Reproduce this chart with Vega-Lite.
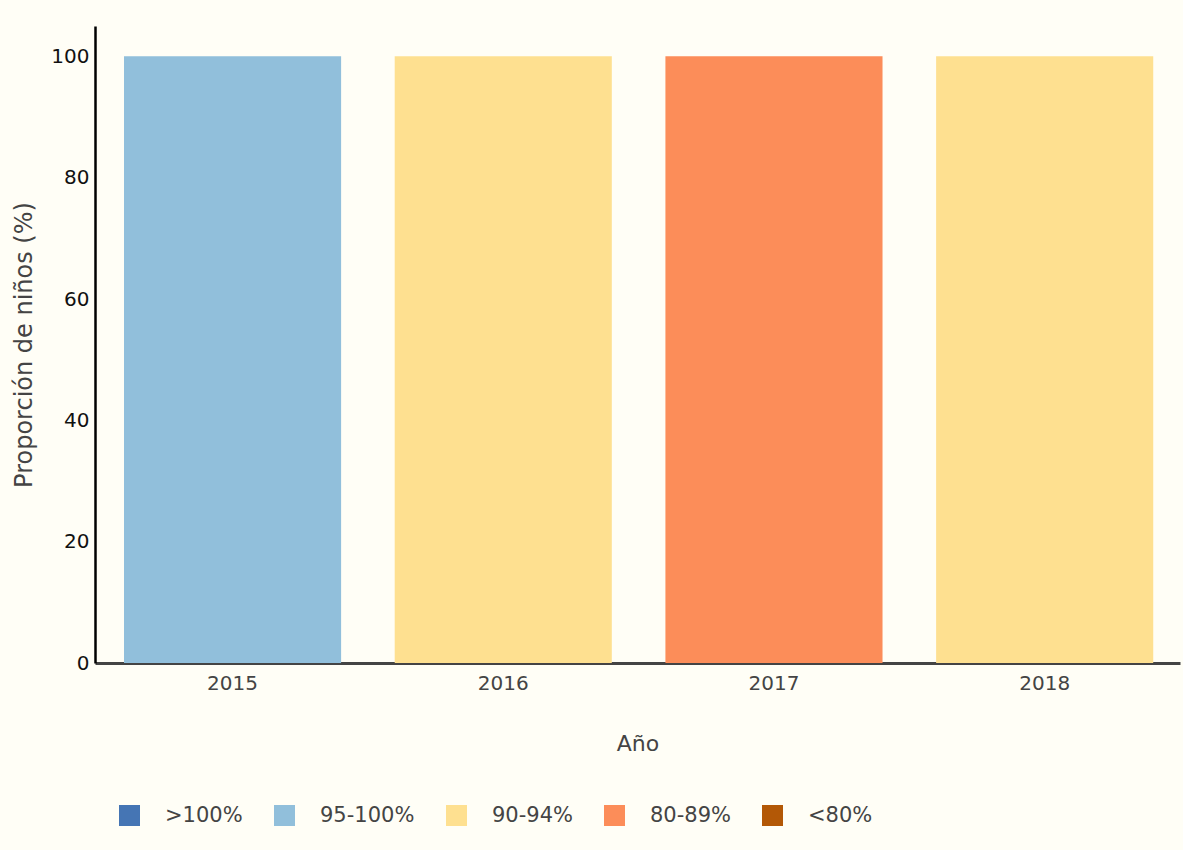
{
  "$schema": "https://vega.github.io/schema/vega-lite/v6.json",
  "autosize": {"type": "none"},
  "width": 1085,
  "height": 637,
  "padding": {"left": 95, "top": 26, "right": 3, "bottom": 187},
  "background": "#fffef6",
  "config": {
    "font": "DejaVu Sans",
    "view": {"stroke": null},
    "axis": {"grid": false, "ticks": false}
  },
  "data": {
    "values": [
      {"anio": "2015", "valor": 100, "cat": "95-100%"},
      {"anio": "2016", "valor": 100, "cat": "90-94%"},
      {"anio": "2017", "valor": 100, "cat": "80-89%"},
      {"anio": "2018", "valor": 100, "cat": "90-94%"}
    ]
  },
  "mark": {"type": "bar"},
  "encoding": {
    "x": {
      "field": "anio",
      "type": "nominal",
      "scale": {"paddingInner": 0.198, "paddingOuter": 0.103, "align": 0.52},
      "axis": {
        "title": "Año",
        "labelAngle": 0,
        "labelFontSize": 20,
        "labelColor": "#444444",
        "labelPadding": 10,
        "titleFontSize": 22,
        "titleFontWeight": "normal",
        "titleColor": "#444444",
        "titlePadding": 40,
        "domainColor": "#444444",
        "domainWidth": 3
      }
    },
    "y": {
      "field": "valor",
      "type": "quantitative",
      "scale": {"domain": [0, 105], "nice": false},
      "axis": {
        "title": "Proporción de niños (%)",
        "values": [0, 20, 40, 60, 80, 100],
        "labelFontSize": 20,
        "labelColor": "#111111",
        "labelPadding": 6,
        "titleFontSize": 24,
        "titleFontWeight": "normal",
        "titleColor": "#444444",
        "titlePadding": 14,
        "domainColor": "#000000",
        "domainWidth": 2.5
      }
    },
    "color": {
      "field": "cat",
      "type": "nominal",
      "scale": {
        "domain": [">100%", "95-100%", "90-94%", "80-89%", "<80%"],
        "range": ["#4575b4", "#91bfdb", "#fee090", "#fc8d59", "#b35806"]
      },
      "legend": {
        "title": null,
        "orient": "none",
        "direction": "horizontal",
        "legendX": 24,
        "legendY": 779,
        "symbolType": "square",
        "symbolSize": 441,
        "symbolStrokeWidth": 0,
        "symbolOpacity": 1,
        "labelFontSize": 21,
        "labelColor": "#444444",
        "labelOffset": 25,
        "columnPadding": 31
      }
    }
  }
}
